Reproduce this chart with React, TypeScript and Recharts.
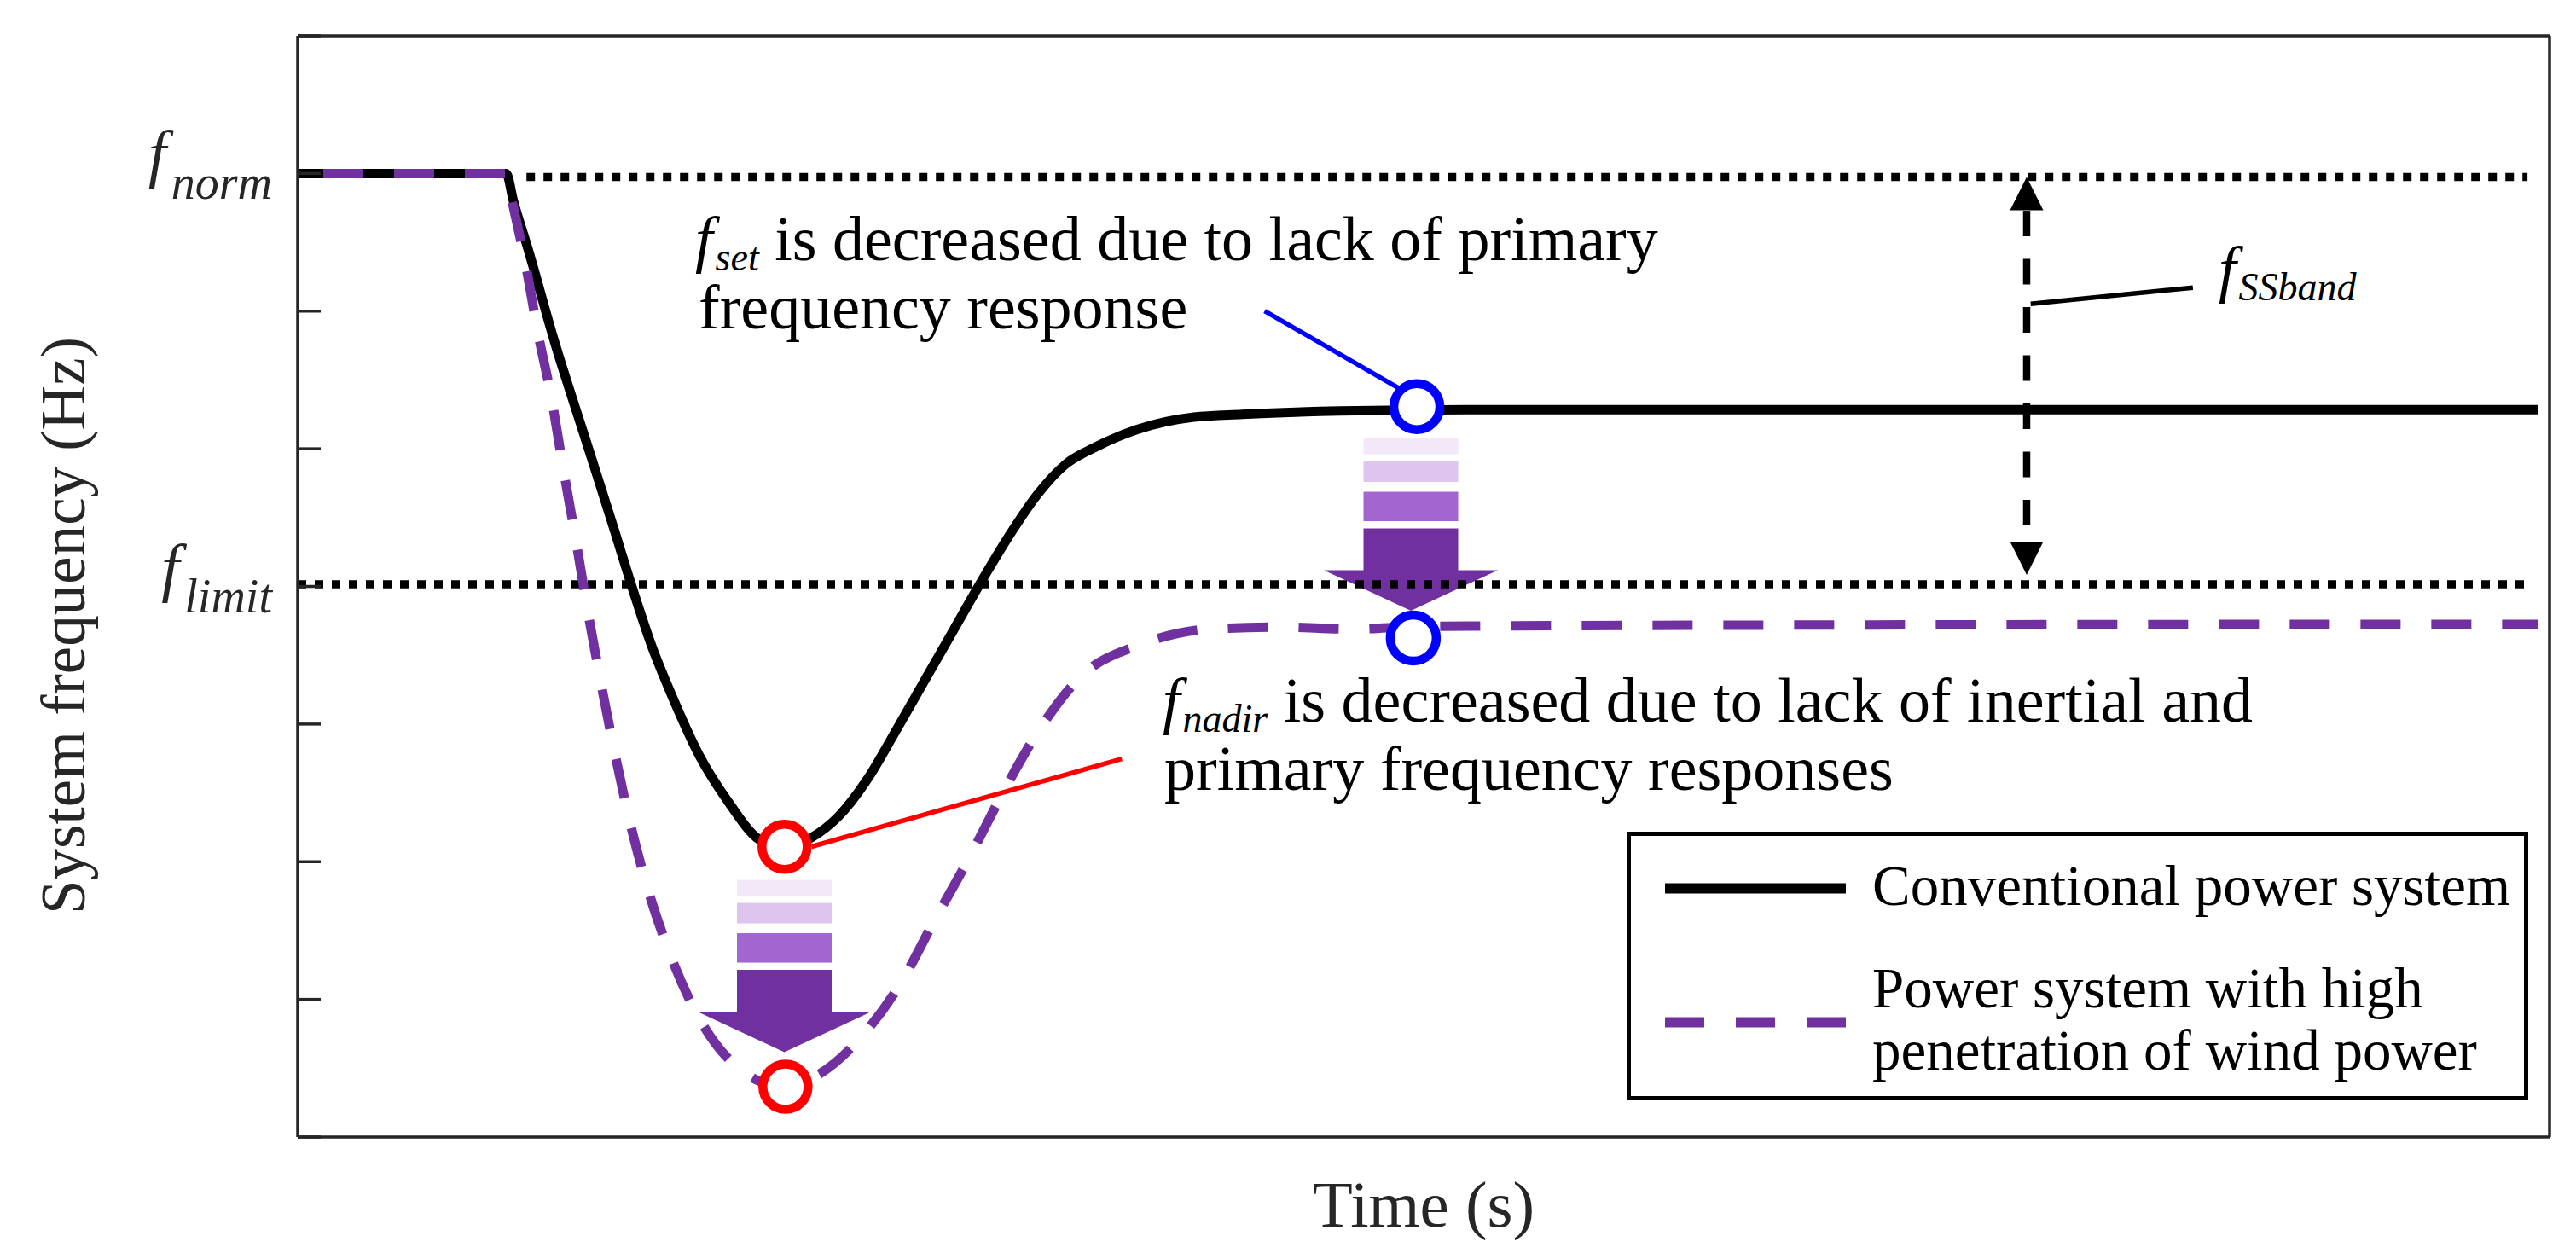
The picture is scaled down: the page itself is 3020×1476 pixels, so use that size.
import React from 'react';
import {
  ComposedChart,
  Line,
  XAxis,
  YAxis,
  ReferenceLine,
  ReferenceDot,
  Legend,
} from 'recharts';

if (typeof document !== 'undefined') {
  document.body.style.margin = '0';
  document.body.style.overflow = 'hidden';
}

const SERIF = "'Liberation Serif', 'Times New Roman', serif";
const AXIS_COLOR = '#262626';
const PURPLE = '#7030A0';

// axes: time in arbitrary units (5 divisions), frequency in arbitrary units (8 divisions)
const xTicks = [0, 1, 2, 3, 4, 5];
const yTicks = [0, 1, 2, 3, 4, 5, 6, 7, 8];
const yTickNames: Record<number, string> = { 7: 'norm', 4: 'limit' };

// Conventional power system
const convTime = [0, 0.463, 0.479, 0.511, 0.571, 0.638, 0.705, 0.739, 0.788, 0.829, 0.892, 0.955, 1.025, 1.081, 1.138, 1.201, 1.265, 1.328, 1.391, 1.454, 1.517, 1.58, 1.643, 1.706, 1.77, 1.864, 1.99, 2.097, 2.314, 2.6, 4.975];
const convFreq = [7, 7, 6.8, 6.456, 5.77, 5.08, 4.39, 4.03, 3.55, 3.22, 2.77, 2.44, 2.16, 2.1, 2.17, 2.33, 2.6, 2.95, 3.31, 3.67, 4.03, 4.37, 4.67, 4.89, 5.01, 5.14, 5.23, 5.25, 5.275, 5.285, 5.285];

// Power system with high penetration of wind power
const windTime = [0, 0.463, 0.472, 0.505, 0.533, 0.564, 0.59, 0.617, 0.643, 0.671, 0.701, 0.734, 0.773, 0.823, 0.886, 0.98, 1.075, 1.154, 1.252, 1.343, 1.41, 1.493, 1.564, 1.643, 1.737, 1.874, 2.024, 2.18, 2.336, 2.5, 3.5, 4.975];
const windFreq = [7, 7, 6.86, 6.36, 5.85, 5.36, 4.85, 4.35, 3.84, 3.34, 2.84, 2.34, 1.85, 1.36, 0.895, 0.497, 0.37, 0.45, 0.73, 1.14, 1.55, 2.04, 2.49, 2.94, 3.34, 3.58, 3.69, 3.705, 3.69, 3.71, 3.72, 3.725];

// reference levels
const fNorm = 6.975;
const fLimit = 4.015;
const fNormStart = 0.508;
const levelEnd = 4.951;

// f_SSband band arrow
const bandX = 3.839;
const bandTop = 6.975;
const bandBottom = 4.083;
const bandDashTop = 6.729;
const bandDashBottom = 4.325;

// markers (t, f)
const nadirMarks = [
  { t: 1.081, f: 2.109 },
  { t: 1.083, f: 0.366 },
];
const setMarks = [
  { t: 2.485, f: 5.306 },
  { t: 2.477, f: 3.625 },
];
const fadeArrows = [
  { t: 1.0805, f: 1.868 },
  { t: 2.4716, f: 5.075 },
];

// leader lines
const setLeader = [{ x: 2.147, y: 6.001 }, { x: 2.445, y: 5.44 }];
const nadirLeader = [{ x: 1.141, y: 2.11 }, { x: 1.83, y: 2.748 }];
const bandLeader = [{ x: 3.848, y: 6.052 }, { x: 4.208, y: 6.171 }];

// annotation text
const setNote = { t: 0.8826, f: 6.37, sub: 'set', lines: ['is decreased due to lack of primary', 'frequency response'], dx2: 4 };
const nadirNote = { t: 1.9205, f: 3.018, sub: 'nadir', lines: ['is decreased due to lack of inertial and', 'primary frequency responses'], dx2: 2 };
const bandNote = { t: 4.265, f: 6.153, sub: 'SSband' };

const seriesNames = ['Conventional power system', 'Power system with high penetration of wind power'];
const legendWrap: Record<string, string[]> = {
  'Power system with high penetration of wind power': ['Power system with high', 'penetration of wind power'],
};

const ARROW_FILLS = ['#F2E8F8', '#DDC5ED', '#A366D1', PURPLE];

const convData = convTime.map((t, i) => ({ t, f: convFreq[i] }));
const windData = windTime.map((t, i) => ({ t, f: windFreq[i] }));

const FreqTick = (props: any) => {
  const { x, y, payload } = props;
  const name = yTickNames[payload?.value];
  if (!name) return null;
  return (
    <text x={x - 57} y={y + 3} textAnchor="end" fontFamily={SERIF} fill={AXIS_COLOR}>
      <tspan fontStyle="italic" fontSize={76}>f</tspan>
      <tspan fontStyle="italic" fontSize={56} dx={6} dy={27}>{name}</tspan>
    </text>
  );
};

const TimeLabel = (props: any) => {
  const vb = props.viewBox || { x: 349, y: 1333, width: 2640, height: 0 };
  return (
    <text
      x={vb.x + vb.width / 2}
      y={vb.y + vb.height + 105}
      textAnchor="middle"
      fontFamily={SERIF}
      fontSize={77}
      fill={AXIS_COLOR}
    >
      {props.value}
    </text>
  );
};

const FreqLabel = (props: any) => {
  const vb = props.viewBox || { x: 349, y: 42, width: 0, height: 1291 };
  const x = vb.x - 250;
  const y = vb.y + vb.height / 2 + 46;
  return (
    <text
      x={x}
      y={y}
      transform={`rotate(-90 ${x} ${y})`}
      textAnchor="middle"
      fontFamily={SERIF}
      fontSize={73}
      fill={AXIS_COLOR}
    >
      {props.value}
    </text>
  );
};

const FadeArrow = ({ cx = 0, cy = 0 }: any) => {
  const hb = 55.5;
  const hh = 102;
  return (
    <g>
      <rect x={cx - hb} y={cy} width={hb * 2} height={18.5} fill={ARROW_FILLS[0]} />
      <rect x={cx - hb} y={cy + 27} width={hb * 2} height={24} fill={ARROW_FILLS[1]} />
      <rect x={cx - hb} y={cy + 62.5} width={hb * 2} height={34.5} fill={ARROW_FILLS[2]} />
      <polygon
        points={`${cx - hb},${cy + 105.5} ${cx + hb},${cy + 105.5} ${cx + hb},${cy + 154.5} ${cx + hh},${cy + 154.5} ${cx},${cy + 202} ${cx - hh},${cy + 154.5} ${cx - hb},${cy + 154.5}`}
        fill={ARROW_FILLS[3]}
      />
    </g>
  );
};

const HeadUp = ({ cx = 0, cy = 0 }: any) => (
  <polygon points={`${cx},${cy} ${cx + 19.5},${cy + 39} ${cx - 19.5},${cy + 39}`} fill="#000" />
);
const HeadDown = ({ cx = 0, cy = 0 }: any) => (
  <polygon points={`${cx},${cy} ${cx + 19.5},${cy - 39} ${cx - 19.5},${cy - 39}`} fill="#000" />
);

// one <text> per note: italic f with subscript, then the wrapped sentence
const Note = ({ cx = 0, cy = 0, sub, lines, dx2 = 0 }: any) => (
  <text x={cx} y={cy} fontFamily={SERIF} fill="#000" fontSize={74} style={{ whiteSpace: 'pre' }}>
    <tspan fontStyle="italic" fontSize={74}>f</tspan>
    <tspan fontStyle="italic" fontSize={46} dx={3} dy={12}>{sub}</tspan>
    {lines && lines[0] ? <tspan dy={-12}>{' ' + lines[0]}</tspan> : null}
    {lines && lines[1] ? <tspan x={cx + dx2} dy={80}>{lines[1]}</tspan> : null}
  </text>
);

const LegendBox = ({ payload }: any) => {
  const items = payload || [];
  return (
    <svg width={1057} height={315} style={{ display: 'block' }}>
      <rect x={2.5} y={2.5} width={1052} height={310} fill="#fff" stroke="#000" strokeWidth={5} />
      {items.map((item: any, i: number) => {
        const lineY = i === 0 ? 66.6 : 223.5;
        const base = i === 0 ? 86 : 206;
        const lines = legendWrap[item.value] || [item.value];
        return (
          <g key={i}>
            <line
              x1={45}
              x2={257}
              y1={lineY}
              y2={lineY}
              stroke={item.color}
              strokeWidth={12}
              strokeDasharray={i === 0 ? undefined : '46 37'}
            />
            <text x={288} y={base} fontFamily={SERIF} fontSize={67} fill="#000">
              {lines.map((l: string, j: number) => (
                <tspan key={j} x={288} dy={j === 0 ? 0 : 72.5}>{l}</tspan>
              ))}
            </text>
          </g>
        );
      })}
    </svg>
  );
};

export default function App() {
  const axisLine = { stroke: AXIS_COLOR, strokeWidth: 3.5 };
  const tickLine = { stroke: AXIS_COLOR, strokeWidth: 3.5 };
  return (
    <div style={{ width: 3020, height: 1476, background: '#fff' }}>
      <ComposedChart width={3020} height={1476} margin={{ top: 42, right: 31, bottom: 143, left: 349 }}>
        <XAxis
          dataKey="t"
          type="number"
          domain={[0, 5]}
          ticks={xTicks}
          interval={0}
          allowDataOverflow
          mirror
          height={1}
          tick={false}
          tickSize={27}
          axisLine={axisLine}
          tickLine={tickLine}
          label={{ value: 'Time (s)', content: TimeLabel }}
        />
        <XAxis
          xAxisId="top"
          orientation="top"
          type="number"
          domain={[0, 5]}
          ticks={xTicks}
          interval={0}
          allowDataOverflow
          mirror
          height={1}
          tick={false}
          tickSize={27}
          axisLine={axisLine}
          tickLine={tickLine}
        />
        <YAxis
          type="number"
          domain={[0, 8]}
          ticks={yTicks}
          interval={0}
          allowDataOverflow
          mirror
          width={1}
          tick={<FreqTick />}
          tickSize={27}
          tickMargin={0}
          axisLine={axisLine}
          tickLine={tickLine}
          label={{ value: 'System frequency (Hz)', content: FreqLabel }}
        />
        <YAxis
          yAxisId="right"
          orientation="right"
          type="number"
          domain={[0, 8]}
          ticks={yTicks}
          interval={0}
          allowDataOverflow
          mirror
          width={1}
          tick={false}
          tickSize={27}
          axisLine={axisLine}
          tickLine={tickLine}
        />

        {fadeArrows.map((a, i) => (
          <ReferenceDot key={`arrow-${i}`} x={a.t} y={a.f} ifOverflow="visible" zIndex={350} shape={(p: any) => <FadeArrow cx={p.cx} cy={p.cy} />} />
        ))}

        <ReferenceLine
          segment={[{ x: fNormStart, y: fNorm }, { x: levelEnd, y: fNorm }]}
          stroke="#000"
          strokeWidth={9.5}
          strokeDasharray="10 10"
          ifOverflow="visible"
          zIndex={380}
        />
        <ReferenceLine
          segment={[{ x: 0, y: fLimit }, { x: levelEnd, y: fLimit }]}
          stroke="#000"
          strokeWidth={9.5}
          strokeDasharray="10 10"
          ifOverflow="visible"
          zIndex={380}
        />

        <Line
          data={convData}
          dataKey="f"
          name={seriesNames[0]}
          type="monotone"
          stroke="#000"
          strokeWidth={11}
          dot={false}
          activeDot={false}
          isAnimationActive={false}
          zIndex={400}
        />
        <Line
          data={windData}
          dataKey="f"
          name={seriesNames[1]}
          type="monotone"
          stroke={PURPLE}
          strokeWidth={11}
          strokeDasharray="47 36"
          strokeDashoffset={53}
          dot={false}
          activeDot={false}
          isAnimationActive={false}
          zIndex={401}
        />

        <ReferenceLine segment={setLeader} stroke="#0000FF" strokeWidth={5.5} ifOverflow="visible" zIndex={410} />
        <ReferenceLine segment={nadirLeader} stroke="#FF0000" strokeWidth={5.5} ifOverflow="visible" zIndex={410} />
        <ReferenceLine segment={bandLeader} stroke="#000" strokeWidth={5.5} ifOverflow="visible" zIndex={410} />

        <ReferenceLine
          segment={[{ x: bandX, y: bandDashTop }, { x: bandX, y: bandDashBottom }]}
          stroke="#000"
          strokeWidth={8.5}
          strokeDasharray="30 26.5"
          ifOverflow="visible"
          zIndex={410}
        />
        <ReferenceDot x={bandX} y={bandTop} ifOverflow="visible" zIndex={411} shape={(p: any) => <HeadUp cx={p.cx} cy={p.cy} />} />
        <ReferenceDot x={bandX} y={bandBottom} ifOverflow="visible" zIndex={411} shape={(p: any) => <HeadDown cx={p.cx} cy={p.cy} />} />

        {nadirMarks.map((m, i) => (
          <ReferenceDot key={`n-${i}`} x={m.t} y={m.f} r={26.5} fill="#fff" stroke="#FF0000" strokeWidth={10.5} ifOverflow="visible" zIndex={420} />
        ))}
        {setMarks.map((m, i) => (
          <ReferenceDot key={`s-${i}`} x={m.t} y={m.f} r={27} fill="#fff" stroke="#0000FF" strokeWidth={10.5} ifOverflow="visible" zIndex={420} />
        ))}

        <ReferenceDot x={setNote.t} y={setNote.f} ifOverflow="visible" zIndex={430} shape={(p: any) => <Note cx={p.cx} cy={p.cy} sub={setNote.sub} lines={setNote.lines} dx2={setNote.dx2} />} />
        <ReferenceDot x={nadirNote.t} y={nadirNote.f} ifOverflow="visible" zIndex={430} shape={(p: any) => <Note cx={p.cx} cy={p.cy} sub={nadirNote.sub} lines={nadirNote.lines} dx2={nadirNote.dx2} />} />
        <ReferenceDot x={bandNote.t} y={bandNote.f} ifOverflow="visible" zIndex={430} shape={(p: any) => <Note cx={p.cx} cy={p.cy} sub={bandNote.sub} />} />

        <Legend
          layout="vertical"
          align="center"
          verticalAlign="middle"
          content={(p: any) => <LegendBox payload={p.payload} />}
          wrapperStyle={{ left: 1907, top: 975, width: 1057, height: 315 }}
        />
      </ComposedChart>
    </div>
  );
}
